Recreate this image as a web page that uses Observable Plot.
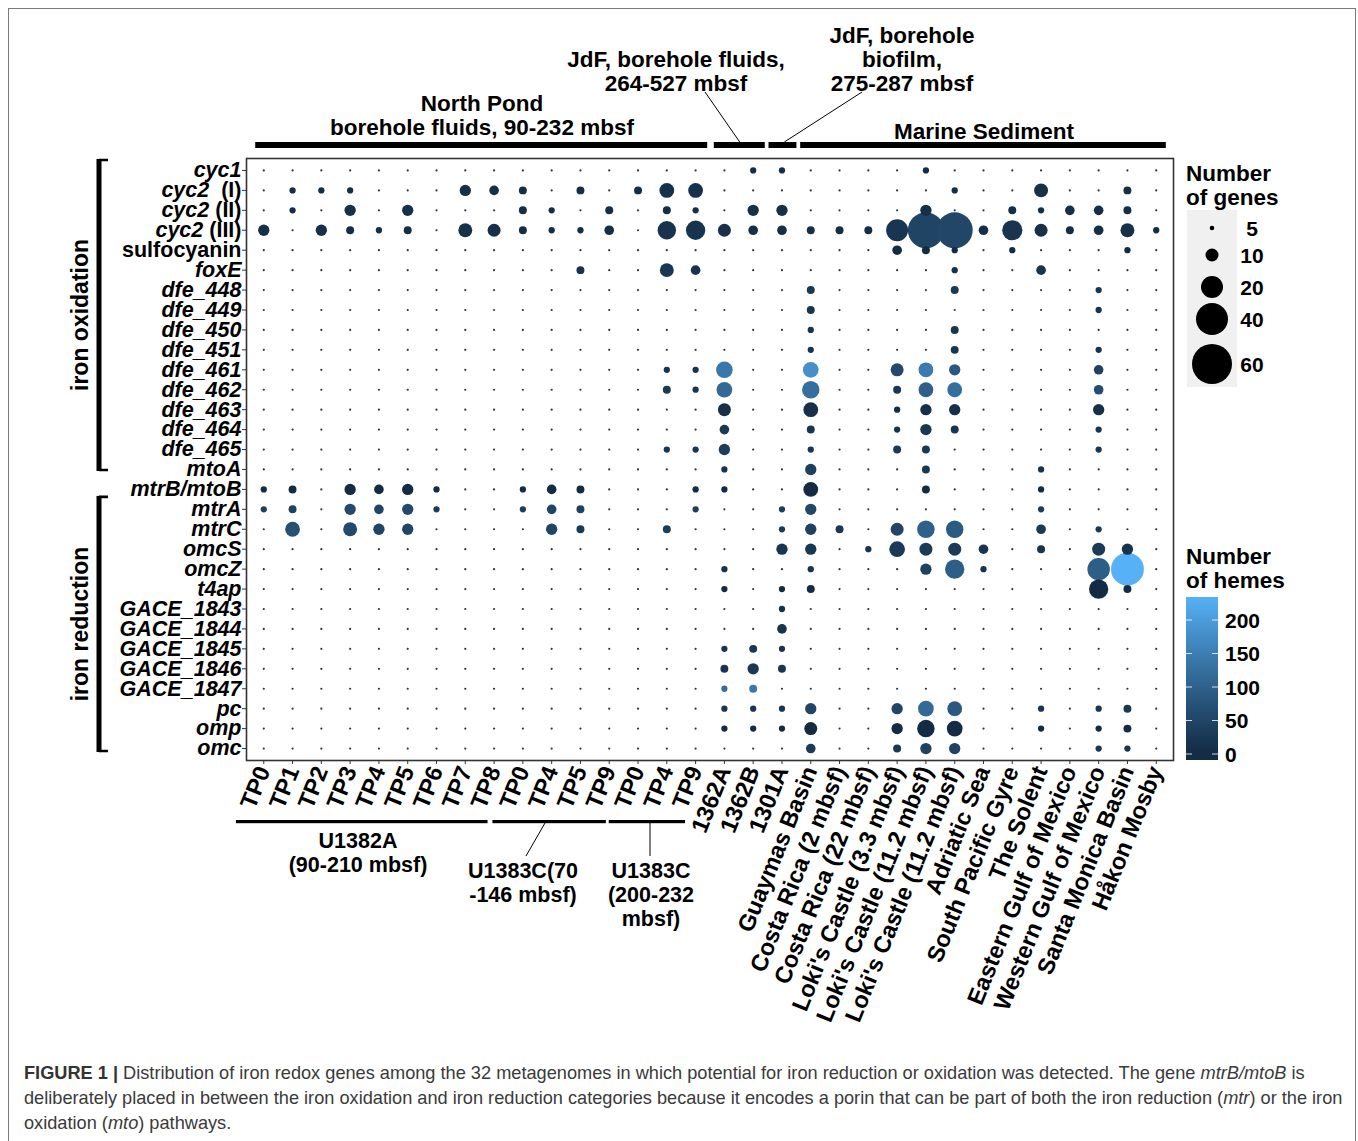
<!DOCTYPE html>
<html>
<head>
<meta charset="utf-8">
<script src="https://cdn.jsdelivr.net/npm/d3@7"></script>
<script src="https://cdn.jsdelivr.net/npm/@observablehq/plot@0.6"></script>
<style>
  body { margin: 0; background: #fff; font-family: "Liberation Sans", Arial, sans-serif; }
  #wrap { position: relative; width: 1358px; height: 1141px; overflow: hidden; }
  #frame { position: absolute; left: 8px; top: 8px; width: 1348px; height: 1150px; border: 1px solid #7a7a7a; box-sizing: border-box; }
  #chart { position: absolute; left: 0; top: 0; }
  #caption { position: absolute; left: 24px; top: 1061px; font-size: 18.2px; line-height: 25px; color: #3a3a3a; white-space: nowrap; }
  #caption b { font-weight: bold; color: #333; }
</style>
</head>
<body>
<div id="wrap">
  <div id="frame"></div>
  <div id="chart"></div>
  <div id="caption"><b>FIGURE 1 |</b> Distribution of iron redox genes among the 32 metagenomes in which potential for iron reduction or oxidation was detected. The gene <i>mtrB/mtoB</i> is<br>deliberately placed in between the iron oxidation and iron reduction categories because it encodes a porin that can be part of both the iron reduction (<i>mtr</i>) or the iron<br>oxidation (<i>mto</i>) pathways.</div>
</div>
<script>
// ---------- DATA ----------
const siteLabels = ["TP0","TP1","TP2","TP3","TP4","TP5","TP6","TP7","TP8",
  "TP0","TP4","TP5","TP9","TP0","TP4","TP9","1362A","1362B","1301A",
  "Guaymas Basin","Costa Rica (2 mbsf)","Costa Rica (22 mbsf)","Loki's Castle (3.3 mbsf)",
  "Loki's Castle (11.2 mbsf)","Loki's Castle (11.2 mbsf)","Adriatic Sea","South Pacific Gyre",
  "The Solent","Eastern Gulf of Mexico","Western Gulf of Mexico","Santa Monica Basin","Håkon Mosby"];
const siteIds = siteLabels.map((l, i) => i + ":" + l);

const geneNames = ["cyc1","cyc2 (I)","cyc2 (II)","cyc2 (III)","sulfocyanin","foxE",
  "dfe_448","dfe_449","dfe_450","dfe_451","dfe_461","dfe_462","dfe_463","dfe_464","dfe_465",
  "mtoA","mtrB/mtoB","mtrA","mtrC","omcS","omcZ","t4ap",
  "GACE_1843","GACE_1844","GACE_1845","GACE_1846","GACE_1847","pc","omp","omc"];

// [gene, site index, number of genes, number of hemes]
const oxidationCounts = [
  ["cyc1",17,6,6],["cyc1",18,6,6],["cyc1",23,6,6],
  ["cyc2 (I)",1,6,6],["cyc2 (I)",2,6,6],["cyc2 (I)",3,6,6],["cyc2 (I)",7,9,9],["cyc2 (I)",8,8,8],
  ["cyc2 (I)",9,7,7],["cyc2 (I)",11,7,7],["cyc2 (I)",13,7,7],["cyc2 (I)",14,12,12],["cyc2 (I)",15,12,12],
  ["cyc2 (I)",24,6,6],["cyc2 (I)",27,11,11],["cyc2 (I)",30,7,7],
  ["cyc2 (II)",1,6,6],["cyc2 (II)",3,9,9],["cyc2 (II)",5,9,9],["cyc2 (II)",9,7,7],["cyc2 (II)",10,6,6],
  ["cyc2 (II)",12,7,7],["cyc2 (II)",14,7,7],["cyc2 (II)",15,6,6],["cyc2 (II)",17,9,9],["cyc2 (II)",18,9,9],
  ["cyc2 (II)",23,9,9],["cyc2 (II)",26,7,7],["cyc2 (II)",27,6,6],["cyc2 (II)",28,8,8],["cyc2 (II)",29,8,8],
  ["cyc2 (II)",30,7,7],
  ["cyc2 (III)",0,9,9],["cyc2 (III)",2,9,9],["cyc2 (III)",3,7,7],["cyc2 (III)",4,6,6],["cyc2 (III)",5,7,7],
  ["cyc2 (III)",7,11,11],["cyc2 (III)",8,10,10],["cyc2 (III)",9,7,7],["cyc2 (III)",10,6,6],["cyc2 (III)",11,6,6],
  ["cyc2 (III)",12,8,8],["cyc2 (III)",14,16,16],["cyc2 (III)",15,17,17],["cyc2 (III)",16,10,10],
  ["cyc2 (III)",17,8,8],["cyc2 (III)",18,8,8],["cyc2 (III)",19,7,7],["cyc2 (III)",20,7,7],["cyc2 (III)",21,7,7],
  ["cyc2 (III)",22,20,20],["cyc2 (III)",23,50,48],["cyc2 (III)",24,50,52],["cyc2 (III)",25,8,8],
  ["cyc2 (III)",26,18,18],["cyc2 (III)",27,10,10],["cyc2 (III)",28,7,7],["cyc2 (III)",29,8,8],
  ["cyc2 (III)",30,11,11],["cyc2 (III)",31,6,6],
  ["sulfocyanin",22,8,0],["sulfocyanin",23,7,0],["sulfocyanin",24,6,0],["sulfocyanin",26,6,0],["sulfocyanin",30,6,0],
  ["foxE",11,7,14],["foxE",14,11,22],["foxE",15,8,16],["foxE",24,6,12],["foxE",27,8,16],
  ["dfe_448",19,7,25],["dfe_448",24,7,25],["dfe_448",29,6,20],
  ["dfe_449",19,7,20],["dfe_449",29,6,15],
  ["dfe_450",19,6,15],["dfe_450",24,7,20],
  ["dfe_451",19,6,15],["dfe_451",24,7,20],["dfe_451",29,6,15],
  ["dfe_461",14,6,15],["dfe_461",15,6,15],["dfe_461",16,14,140],["dfe_461",19,13,180],["dfe_461",22,10,60],
  ["dfe_461",23,12,145],["dfe_461",24,9,85],["dfe_461",29,8,45],
  ["dfe_462",14,7,25],["dfe_462",15,6,20],["dfe_462",16,13,115],["dfe_462",19,15,125],["dfe_462",22,7,25],
  ["dfe_462",23,12,100],["dfe_462",24,12,125],["dfe_462",29,8,65],
  ["dfe_463",16,10,10],["dfe_463",19,12,10],["dfe_463",22,6,5],["dfe_463",23,9,10],["dfe_463",24,9,10],["dfe_463",29,9,10],
  ["dfe_464",16,8,25],["dfe_464",19,7,20],["dfe_464",22,6,15],["dfe_464",23,9,25],["dfe_464",24,7,20],["dfe_464",29,6,15],
  ["dfe_465",14,6,20],["dfe_465",15,6,20],["dfe_465",16,9,35],["dfe_465",19,6,20],["dfe_465",22,7,30],
  ["dfe_465",23,7,25],["dfe_465",29,6,20],
  ["mtoA",16,6,15],["mtoA",19,9,40],["mtoA",23,7,25],["mtoA",27,6,15],
  ["mtrB/mtoB",0,6,0],["mtrB/mtoB",1,7,0],["mtrB/mtoB",3,9,0],["mtrB/mtoB",4,8,0],["mtrB/mtoB",5,9,0],
  ["mtrB/mtoB",6,6,0],["mtrB/mtoB",9,6,0],["mtrB/mtoB",10,8,0],["mtrB/mtoB",11,7,0],["mtrB/mtoB",15,6,0],
  ["mtrB/mtoB",16,6,0],["mtrB/mtoB",19,12,0],["mtrB/mtoB",23,7,0],["mtrB/mtoB",27,6,0]
];
const reductionCounts = [
  ["mtrA",0,6,40],["mtrA",1,7,45],["mtrA",3,9,60],["mtrA",4,8,50],["mtrA",5,9,60],["mtrA",6,6,35],
  ["mtrA",9,6,35],["mtrA",10,8,50],["mtrA",11,7,45],["mtrA",15,6,35],["mtrA",18,6,35],["mtrA",19,9,55],["mtrA",27,6,35],
  ["mtrC",1,12,70],["mtrC",3,11,60],["mtrC",4,9,50],["mtrC",5,9,50],["mtrC",10,9,50],["mtrC",11,7,30],
  ["mtrC",14,7,35],["mtrC",18,6,30],["mtrC",19,9,45],["mtrC",20,7,25],["mtrC",22,10,50],["mtrC",23,15,100],
  ["mtrC",24,15,90],["mtrC",27,8,30],["mtrC",29,6,25],
  ["omcS",18,9,20],["omcS",19,9,25],["omcS",21,6,15],["omcS",22,13,30],["omcS",23,10,30],["omcS",24,10,30],
  ["omcS",25,8,15],["omcS",27,7,15],["omcS",29,10,30],["omcS",30,9,15],
  ["omcZ",16,6,15],["omcZ",19,6,15],["omcZ",23,9,45],["omcZ",24,17,95],["omcZ",25,6,15],["omcZ",29,21,95],["omcZ",30,42,234],
  ["t4ap",16,6,0],["t4ap",18,6,0],["t4ap",19,7,0],["t4ap",29,17,0],["t4ap",30,7,0],
  ["GACE_1843",18,6,10],
  ["GACE_1844",18,8,15],
  ["GACE_1845",16,6,20],["GACE_1845",17,7,20],["GACE_1845",18,6,15],
  ["GACE_1846",16,7,20],["GACE_1846",17,9,25],["GACE_1846",18,7,20],
  ["GACE_1847",16,6,125],["GACE_1847",17,7,140],
  ["pc",16,6,20],["pc",17,6,20],["pc",18,6,20],["pc",19,9,50],["pc",22,9,50],["pc",23,13,115],["pc",24,12,85],
  ["pc",27,6,20],["pc",29,6,20],["pc",30,7,25],
  ["omp",16,6,0],["omp",17,6,0],["omp",18,6,0],["omp",19,10,0],["omp",22,9,0],["omp",23,15,0],["omp",24,13,0],
  ["omp",27,6,0],["omp",29,6,0],["omp",30,7,0],
  ["omc",19,8,30],["omc",22,7,25],["omc",23,9,45],["omc",24,9,45],["omc",29,6,20],["omc",30,6,20]
];

const sizeBreaks = [5, 10, 20, 40, 60];
const hemeBreaks = [0, 50, 100, 150, 200];
const hemeMax = 234;

// ---------- TABLES ----------
const records = [...oxidationCounts, ...reductionCounts].map(([gene, s, genes, hemes]) =>
  ({gene, site: siteIds[s], genes, hemes}));
const present = new Set(records.map(d => d.gene + "|" + d.site));
const emptyCells = [];
for (const gene of geneNames) for (const site of siteIds)
  if (!present.has(gene + "|" + site)) emptyCells.push({gene, site});
const labelOf = new Map(siteIds.map((id, i) => [id, siteLabels[i]]));

const FONT = "'Liberation Sans', Arial, Helvetica, sans-serif";

const plot = Plot.plot({
  width: 1358, height: 1050,
  marginTop: 158, marginLeft: 246, marginRight: 185, marginBottom: 290,
  style: {fontFamily: FONT, background: "transparent", overflow: "visible", color: "#000"},
  x: {type: "point", domain: siteIds, padding: 0.6, round: false},
  y: {type: "point", domain: geneNames, padding: 0.6, round: false},
  r: {type: "linear", domain: [0, 5, 10, 20, 40, 60], range: [0.9, 2.3, 6.5, 11, 16, 20]},
  color: {type: "linear", domain: [0, hemeMax], range: ["#132B43", "#56B1F7"], interpolate: d3.interpolateLab},
  marks: [
    Plot.dot(emptyCells, {x: "site", y: "gene", r: 1.1, fill: "#22384f"}),
    Plot.dot(records, {x: "site", y: "gene", r: "genes", fill: "hemes"}),
    Plot.frame({stroke: "#333", strokeWidth: 1.6}),
    Plot.axisY({label: null, tickSize: 4, tickPadding: 1, fontSize: 21.5, fontWeight: "bold", stroke: "#333"}),
    Plot.axisX({label: null, tickSize: 4, tickPadding: 3, tickRotate: -68, fontSize: 23.5, fontWeight: "bold",
      stroke: "#333", tickFormat: d => labelOf.get(d)})
  ]
});
document.getElementById("chart").appendChild(plot);

const svg = d3.select(plot);
svg.selectAll("text").attr("fill", "#000");

// y tick labels: italic gene names, upright roman numerals / sulfocyanin
svg.selectAll('g[aria-label="y-axis tick label"] text').each(function () {
  const t = d3.select(this);
  const s = t.text();
  const m = s.match(/^(cyc2)\s+(\(.*\))$/);
  if (m) {
    t.text(null);
    t.append("tspan").attr("font-style", "italic").text(m[1]);
    t.append("tspan").attr("font-style", "normal").text((m[2] === "(I)" ? "\u00a0\u00a0" : "\u00a0") + m[2]);
  } else if (s === "sulfocyanin") {
    t.attr("font-style", "normal");
  } else {
    t.attr("font-style", "italic");
  }
});

// ---------- ANNOTATIONS ----------
const X = plot.scale("x"), Y = plot.scale("y"), R = plot.scale("r"), C = plot.scale("color");
const px = i => X.apply(siteIds[i]);
const step = px(1) - px(0);
const py = g => Y.apply(g);

const ann = svg.append("g").attr("font-family", FONT).attr("font-weight", "bold").attr("fill", "#000");

// top group bars
const topGroups = [
  {a: 0, b: 15, da: -0.28, db: 0.42},
  {a: 16, b: 17, da: -0.35, db: 0.42},
  {a: 18, b: 18, da: -0.45, db: 0.52},
  {a: 19, b: 31, da: -0.35, db: 0.35}
];
for (const g of topGroups) {
  ann.append("rect").attr("x", px(g.a) + g.da * step).attr("y", 142)
    .attr("width", px(g.b) + g.db * step - px(g.a) - g.da * step).attr("height", 6).attr("fill", "#000");
}
const topText = (x, y, s) => ann.append("text").attr("x", x).attr("y", y).attr("text-anchor", "middle")
  .attr("font-size", 22.5).text(s);
topText(482, 111, "North Pond");
topText(482, 135, "borehole fluids, 90-232 mbsf");
topText(984, 139, "Marine Sediment");
topText(676, 67, "JdF, borehole fluids,");
topText(676, 91, "264-527 mbsf");
topText(902, 43, "JdF, borehole");
topText(902, 67, "biofilm,");
topText(902, 91, "275-287 mbsf");
ann.append("line").attr("x1", 705).attr("y1", 92).attr("x2", px(16) + 0.55 * step).attr("y2", 142)
  .attr("stroke", "#000").attr("stroke-width", 1);
ann.append("line").attr("x1", 862).attr("y1", 92).attr("x2", px(18) + 0.1 * step).attr("y2", 142)
  .attr("stroke", "#000").attr("stroke-width", 1);

// bottom group bars
const botGroups = [
  {a: 0, b: 8, da: -0.95, db: -0.21},
  {a: 9, b: 12, da: -1.04, db: -0.1},
  {a: 13, b: 15, da: -1.0, db: -0.35}
];
for (const g of botGroups) {
  ann.append("rect").attr("x", px(g.a) + g.da * step).attr("y", 820)
    .attr("width", px(g.b) + g.db * step - px(g.a) - g.da * step).attr("height", 3.2).attr("fill", "#000");
}
const botText = (x, y, s) => ann.append("text").attr("x", x).attr("y", y).attr("text-anchor", "middle")
  .attr("font-size", 21.5).text(s);
botText(358, 848, "U1382A");
botText(358, 872, "(90-210 mbsf)");
botText(523, 878, "U1383C(70");
botText(523, 902, "-146 mbsf)");
botText(651, 878, "U1383C");
botText(651, 902, "(200-232");
botText(651, 926, "mbsf)");
ann.append("line").attr("x1", 545).attr("y1", 823).attr("x2", 526).attr("y2", 856).attr("stroke", "#000").attr("stroke-width", 1);
ann.append("line").attr("x1", 650).attr("y1", 823).attr("x2", 650).attr("y2", 856).attr("stroke", "#000").attr("stroke-width", 1);

// left category brackets
const bracket = (y1, y2, label) => {
  ann.append("rect").attr("x", 96.5).attr("y", y1).attr("width", 5).attr("height", y2 - y1).attr("fill", "#000");
  ann.append("path").attr("d", `M99,${y1 + 1}H108M99,${y2 - 1}H108`).attr("stroke", "#000").attr("stroke-width", 2.6).attr("fill", "none");
  ann.append("text").attr("transform", `translate(88,${(y1 + y2) / 2}) rotate(-90)`).attr("text-anchor", "middle")
    .attr("font-size", 23).text(label);
};
bracket(py("cyc1") - 11, py("mtoA") + 2, "iron oxidation");
bracket(py("mtrB/mtoB") + 7, py("omc") + 4, "iron reduction");

// ---------- LEGENDS ----------
const leg = svg.append("g").attr("font-family", FONT).attr("font-weight", "bold").attr("fill", "#000")
  .attr("text-anchor", "start");
leg.append("text").attr("x", 1186).attr("y", 181).attr("font-size", 22.5).text("Number");
leg.append("text").attr("x", 1186).attr("y", 205).attr("font-size", 22.5).text("of genes");
leg.append("rect").attr("x", 1187).attr("y", 210).attr("width", 50).attr("height", 177).attr("fill", "#f0f0f0");
const keyY = [228, 255, 287, 319, 364];
sizeBreaks.forEach((v, i) => {
  leg.append("circle").attr("cx", 1212).attr("cy", keyY[i]).attr("r", R.apply(v)).attr("fill", "#000");
  leg.append("text").attr("x", 1252).attr("y", keyY[i]).attr("dy", "0.36em").attr("text-anchor", "middle")
    .attr("font-size", 21).text(v);
});

leg.append("text").attr("x", 1186).attr("y", 564).attr("font-size", 22.5).text("Number");
leg.append("text").attr("x", 1186).attr("y", 588).attr("font-size", 22.5).text("of hemes");
const hy = d3.scaleLinear().domain([0, 200]).range([754, 620]);
const barTop = 597, barBot = 760;
const defs = svg.append("defs");
const grad = defs.append("linearGradient").attr("id", "hemeGrad").attr("x1", 0).attr("x2", 0).attr("y1", 1).attr("y2", 0);
for (let k = 0; k <= 20; k++) {
  const yy = barBot - (barBot - barTop) * k / 20;
  const v = Math.max(0, Math.min(hemeMax, hy.invert(yy)));
  grad.append("stop").attr("offset", k / 20).attr("stop-color", C.apply(v));
}
leg.append("rect").attr("x", 1186).attr("y", barTop).attr("width", 32).attr("height", barBot - barTop).attr("fill", "url(#hemeGrad)");
hemeBreaks.forEach(v => {
  const yy = hy(v);
  leg.append("path").attr("d", `M1186,${yy}h6M1212,${yy}h6`).attr("stroke", "#fff").attr("stroke-width", 1).attr("opacity", 0.8);
  leg.append("text").attr("x", 1225).attr("y", yy).attr("dy", "0.36em").attr("text-anchor", "start")
    .attr("font-size", 21).text(v);
});
</script>
</body>
</html>
